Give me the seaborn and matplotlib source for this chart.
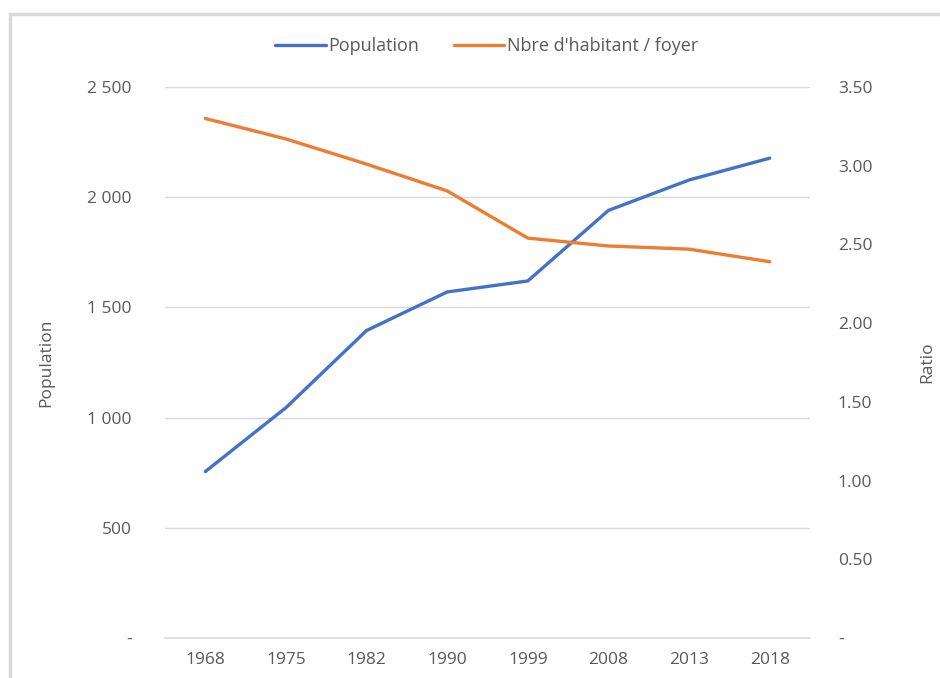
import pandas as pd
import seaborn as sns
import matplotlib.pyplot as plt
from matplotlib.patches import Rectangle
from matplotlib.ticker import FuncFormatter

# data
years = ['1968', '1975', '1982', '1990', '1999', '2008', '2013', '2018']
population = [755, 1045, 1395, 1570, 1620, 1940, 2078, 2177]
ratio = [3.30, 3.17, 3.01, 2.84, 2.54, 2.49, 2.47, 2.39]

data = pd.DataFrame({'Annee': years, 'Population': population, 'Ratio': ratio})

sns.set_theme(style='white')
plt.rcParams['font.family'] = ['Open Sans', 'DejaVu Sans']
grey = '#595959'
blue = '#4472C4'
orange = '#ED7D31'

fig = plt.figure(figsize=(9.4, 6.78), dpi=100)
ax = fig.add_axes([0.1755, 0.059, 0.6862, 0.8127])
ax2 = ax.twinx()

# frame around the chart area
fig.patches.append(Rectangle((0.011, -0.02), 1.0, 1.0, transform=fig.transFigure,
                             fill=False, edgecolor='#d9d9d9', linewidth=2.5))

sns.lineplot(data=data, x='Annee', y='Population', ax=ax, color=blue,
             linewidth=2.4, label='Population', legend=False, sort=False)
sns.lineplot(data=data, x='Annee', y='Ratio', ax=ax2, color=orange,
             linewidth=2.4, label="Nbre d'habitant / foyer", legend=False, sort=False)

ax.set_xlim(-0.5, len(years) - 0.5)
ax.set_ylim(0, 2500)
ax2.set_ylim(0, 3.5)
ax.set_yticks(range(0, 2501, 500))
ax2.set_yticks([i * 0.5 for i in range(8)])

ax.yaxis.set_major_formatter(FuncFormatter(
    lambda v, p: '-' if v == 0 else f'{int(v):,}'.replace(',', ' ')))
ax2.yaxis.set_major_formatter(FuncFormatter(
    lambda v, p: '-' if v == 0 else f'{v:.2f}'))

ax.grid(axis='y', color='#d9d9d9', linewidth=1)
ax.axhline(0, color='#d9d9d9', linewidth=1.2, clip_on=False, zorder=0)
ax.set_axisbelow(True)
for a in (ax, ax2):
    for s in a.spines.values():
        s.set_visible(False)
    a.tick_params(length=0, colors=grey, labelsize=12.5)
ax.tick_params(axis='y', pad=24)
ax2.tick_params(axis='y', pad=20)
ax.tick_params(axis='x', pad=10)

ax.set_xlabel('')
ax.set_ylabel('Population', color=grey, fontsize=12.5, labelpad=24)
ax2.set_ylabel('Ratio', color=grey, fontsize=12.5, rotation=90, labelpad=34)

handles = ax.get_lines()[:1] + ax2.get_lines()[:1]
fig.legend(handles, [h.get_label() for h in handles], loc='center',
           bbox_to_anchor=(0.518, 0.932), ncol=2, frameon=False,
           fontsize=13, labelcolor=grey, handlelength=2.8, handletextpad=0.15,
           columnspacing=1.9)

plt.savefig('out.png', dpi=100)
